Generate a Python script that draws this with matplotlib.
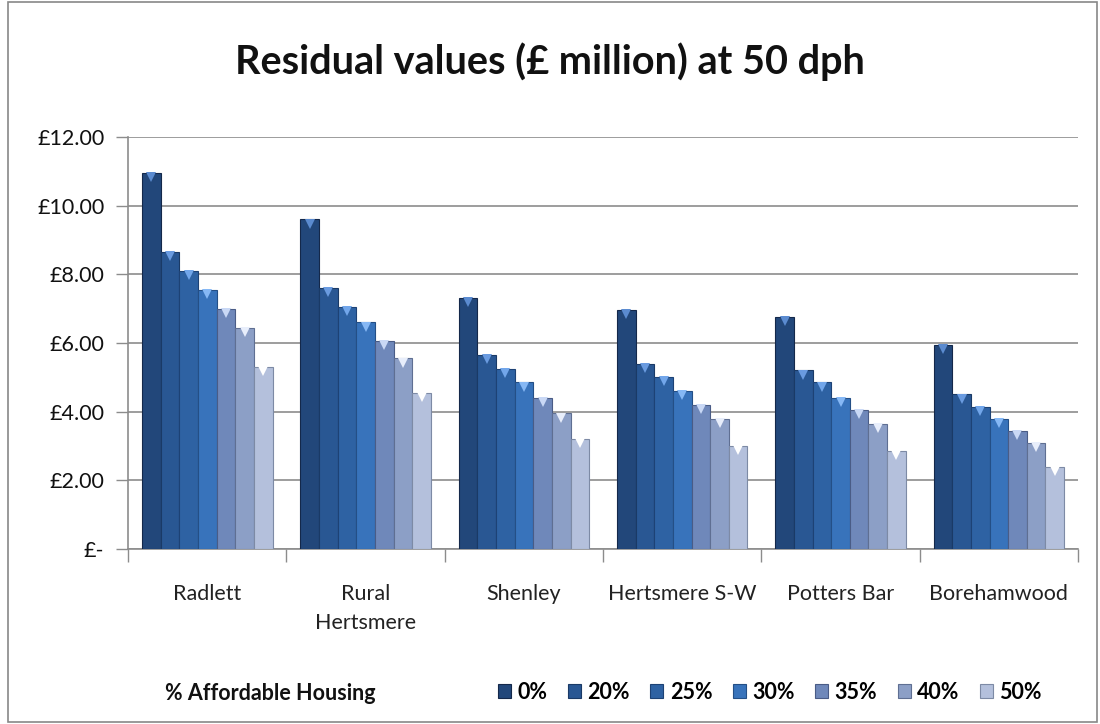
import matplotlib
matplotlib.use("Agg")
import matplotlib.pyplot as plt
import numpy as np
from matplotlib.patches import Rectangle

plt.rcParams['font.family'] = ['Lato', 'DejaVu Sans']

categories = ["Radlett", "Rural\nHertsmere", "Shenley", "Hertsmere S-W", "Potters Bar", "Borehamwood"]
series_names = ["0%", "20%", "25%", "30%", "35%", "40%", "50%"]
values = {
    "0%":  [10.95, 9.60, 7.30, 6.95, 6.75, 5.95],
    "20%": [8.65, 7.60, 5.65, 5.40, 5.20, 4.50],
    "25%": [8.10, 7.05, 5.25, 5.00, 4.85, 4.15],
    "30%": [7.55, 6.60, 4.85, 4.60, 4.40, 3.80],
    "35%": [7.00, 6.05, 4.40, 4.20, 4.05, 3.45],
    "40%": [6.45, 5.55, 3.95, 3.80, 3.65, 3.10],
    "50%": [5.30, 4.55, 3.20, 3.00, 2.85, 2.40],
}
yticks = [0, 2, 4, 6, 8, 10, 12]
ytick_labels = ["£-", "£2.00", "£4.00", "£6.00", "£8.00", "£10.00", "£12.00"]

colors = ["#22477a", "#295793", "#2e62a3", "#3873bb", "#6f88ba", "#8c9fc6", "#b4c0dc"]
edges = ["#14284a", "#1a3a66", "#1d4275", "#244f86", "#4a5c86", "#5f6f92", "#7d8aa5"]
tops = ["#5b8bd0", "#6a9be0", "#72a6ea", "#86b8f5", "#c9d8f5", "#e8eefb", "#ffffff"]

fig = plt.figure(figsize=(11, 7.24), dpi=100)
fig.patches.append(Rectangle((0.007, 0.003), 0.99, 0.994, transform=fig.transFigure,
                             fill=False, edgecolor="#888888", linewidth=1.2))
ax = fig.add_axes([0.1164, 0.2417, 0.8636, 0.5691])

n = len(series_names)
group = 0.825
w = group / n
x = np.arange(len(categories))
handles = []
for i, s in enumerate(series_names):
    pos = x - group / 2 + w * (i + 0.5)
    b = ax.bar(pos, values[s], width=w, color=colors[i], edgecolor=edges[i], linewidth=0.8,
               zorder=3, label=s)
    ax.plot(pos, np.array(values[s]) - 0.12, linestyle="none", marker="v", markersize=7,
            color=tops[i], markeredgewidth=0, zorder=4)
    handles.append(b)

ax.set_xlim(-0.5, len(categories) - 0.5)
ax.set_ylim(0, 12)
ax.set_yticks(yticks)
ax.set_yticklabels(ytick_labels, fontsize=15.5, color="#111111")
ax.yaxis.grid(True, color="#8c8c8c", linewidth=1.2, zorder=0)
ax.set_axisbelow(True)
ax.set_xticks(x)
ax.set_xticklabels(categories, fontsize=15.5, color="#222222", linespacing=1.55)
ax.tick_params(axis="x", length=0, pad=25)
ax.set_xticks(np.arange(-0.5, len(categories)), minor=True)
ax.tick_params(axis="x", which="minor", length=9, color="#8c8c8c", width=1)
ax.tick_params(axis="y", length=9, color="#8c8c8c", width=1, pad=8)
for sp in ["top", "right"]:
    ax.spines[sp].set_visible(False)
for sp in ["left", "bottom"]:
    ax.spines[sp].set_color("#8c8c8c")
    ax.spines[sp].set_linewidth(1.2)

fig.text(0.5, 0.915, "Residual values (£ million) at 50 dph", ha="center", va="center",
         fontsize=28.5, fontweight="bold", color="#111111")
fig.text(0.15, 0.042, "% Affordable Housing", ha="left", va="center",
         fontsize=15.5, fontweight="bold", color="#111111")
leg = fig.legend(handles=handles, labels=series_names, loc="center", bbox_to_anchor=(0.70, 0.044),
                 ncol=7, frameon=False, handlelength=0.6, handleheight=0.6, handletextpad=0.3,
                 columnspacing=0.95, prop={"size": 15.5, "weight": "bold"})

fig.savefig("out.png", dpi=100)
